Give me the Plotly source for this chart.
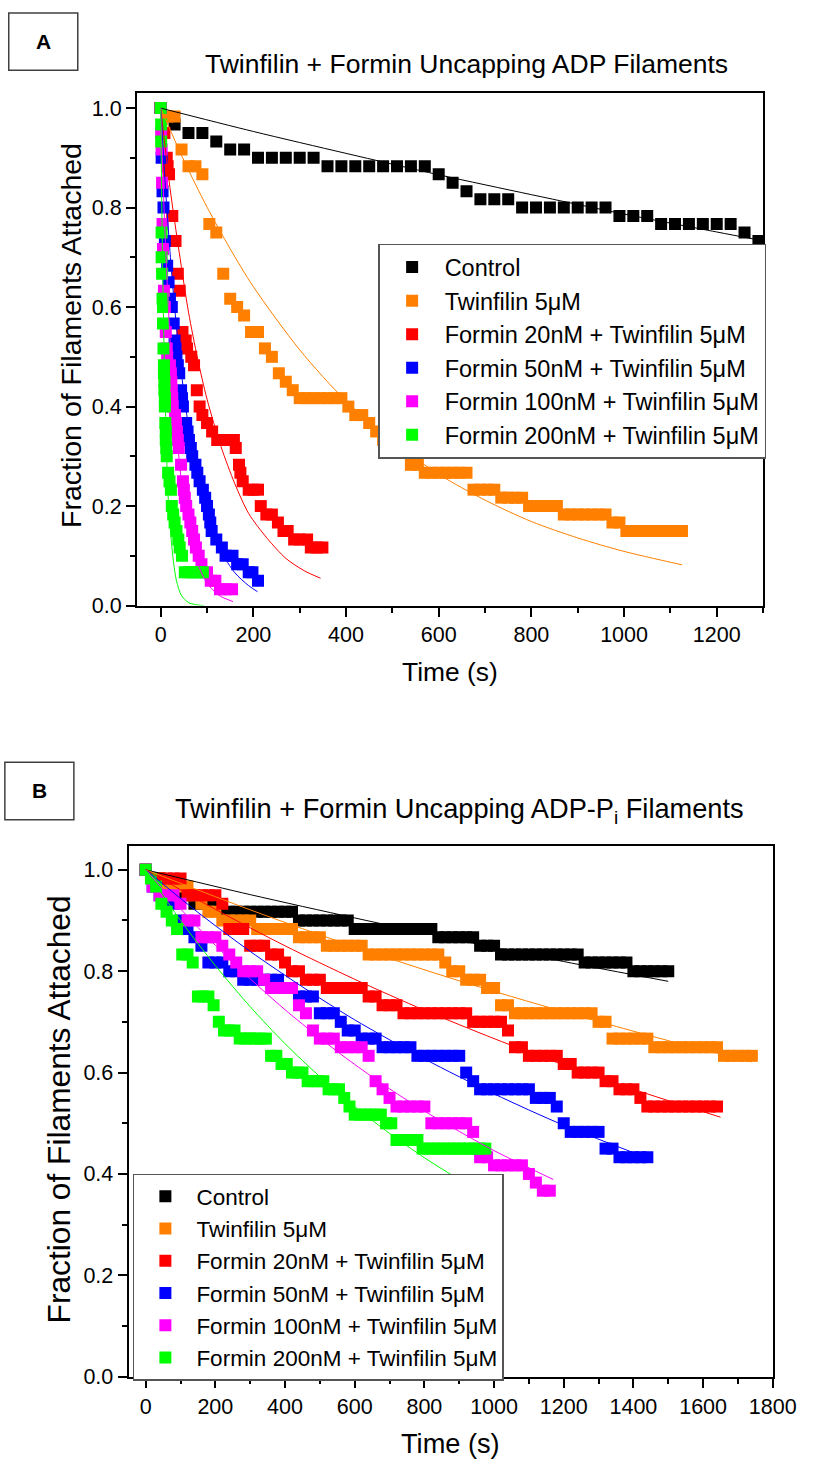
import plotly.graph_objects as go

# ---------------- data ----------------
NAMES = ["Control", "Twinfilin 5μM", "Formin 20nM + Twinfilin 5μM",
         "Formin 50nM + Twinfilin 5μM", "Formin 100nM + Twinfilin 5μM",
         "Formin 200nM + Twinfilin 5μM"]
COLORS = ["#000000", "#FF8000", "#FF0000", "#0000FF", "#FF00FF", "#00FF00"]

TIME_15 = [0, 15, 30, 45, 60, 75, 90, 105, 120, 135, 150, 165, 180, 195, 210, 225, 240, 255, 270, 285,
           300, 315, 330, 345, 360, 375, 390, 405, 420, 435, 450, 465, 480, 495, 510, 525, 540, 555, 570, 585,
           600, 615, 630, 645, 660, 675, 690, 705, 720, 735, 750, 765, 780, 795, 810, 825, 840, 855, 870, 885,
           900, 915, 930, 945, 960, 975, 990, 1005, 1020, 1035, 1050, 1065, 1080, 1095, 1110, 1125]
TIME_20 = [0, 20, 40, 60, 80, 100, 120, 140, 160, 180, 200, 220, 240, 260, 280, 300, 320, 340, 360, 380,
           400, 420, 440, 460, 480, 500, 520, 540, 560, 580, 600, 620, 640, 660, 680, 700, 720, 740, 760, 780,
           800, 820, 840, 860, 880, 900, 920, 940, 960, 980, 1000, 1020, 1040, 1060, 1080, 1100, 1120, 1140,
           1160, 1180, 1200, 1220, 1240, 1260, 1280, 1300, 1320, 1340, 1360, 1380, 1400, 1420, 1440, 1460,
           1480, 1500, 1520, 1540, 1560, 1580, 1600, 1620, 1640, 1660, 1680, 1700, 1720, 1740]
TIME_30 = [0, 30, 60, 90, 120, 150, 180, 210, 240, 270, 300, 330, 360, 390, 420, 450, 480, 510, 540, 570,
           600, 630, 660, 690, 720, 750, 780, 810, 840, 870, 900, 930, 960, 990, 1020, 1050, 1080, 1110,
           1140, 1170, 1200, 1230, 1260, 1290]

# ----- Panel A : ADP filaments -----
A_CONTROL = [1.0, .967, .95, .95, .933, .917, .917, .9, .9, .9, .9, .9,
             .883, .883, .883, .883, .883, .883, .883, .883, .867, .85, .833, .817, .817, .817,
             .8, .8, .8, .8, .8, .8, .8, .783, .783, .783, .767, .767, .767, .767, .767, .767, .75, .733]
A_TWF = [1.0, .983, .983, .917, .883, .883, .867, .767, .75, .667, .617, .6, .583, .55, .55, .517, .5, .467, .45, .433,
         .417, .417, .417, .417, .417, .417, .417,
         .4, .383, .383, .367, .35,
         .333, .333, .317, .317, .283, .283,
         .267, .267, .267, .267, .267, .267, .267,
         .233, .233, .233, .233,
         .217, .217, .217, .217,
         .2, .2, .2, .2, .2,
         .183, .183, .183, .183, .183, .183, .183,
         .167, .167,
         .15, .15, .15, .15, .15, .15, .15, .15, .15]
A_F20_T = [0, 8, 13, 15, 18, 25, 32, 37, 41, 47, 54, 57, 66, 72, 78, 84, 90, 100, 111, 122, 131, 140, 150, 158,
           162, 169, 172, 177, 190, 200, 210, 216, 228, 240, 253, 265, 274, 288, 300, 316, 324, 337, 349]
A_F20 = [1.0, .95, .9, .883, .867, .783, .733, .667, .633, .55, .533, .517, .5, .483, .433, .4, .383, .367, .35,
         .333, .333, .333, .333, .333, .317, .283, .267, .25, .233, .233, .233, .2, .183, .183, .167, .15, .15,
         .133, .133, .133, .117, .117, .117]
A_F50_T = [0, 2, 4, 6, 9, 14, 17, 20, 24, 28, 30, 32, 34, 37, 40, 44, 46, 48, 55, 58, 61, 65, 68, 75, 79,
           84, 91, 96, 100, 104, 107, 110, 120, 132, 140, 155, 165, 177, 190, 198, 210]
A_F50 = [1.0, .9, .833, .8, .733, .683, .65, .617, .6, .567, .533, .517, .5, .483, .467, .433, .417, .4, .367,
         .35, .333, .317, .3, .283, .267, .25, .233, .217, .2, .183, .167, .15, .133, .117, .1, .1, .083, .083,
         .067, .067, .05]
A_F100_T = [0, 1, 2, 3, 4, 5, 7, 9, 11, 13, 14, 20, 22, 23, 24, 25, 26, 31, 33, 35, 37, 39, 44, 48, 50,
            52, 55, 60, 64, 68, 72, 76, 82, 88, 100, 108, 118, 128, 140, 154]
A_F100 = [1.0, .95, .917, .85, .767, .717, .633, .6, .55, .517, .5, .483, .467, .45, .433, .417, .4, .383,
          .367, .35, .333, .317, .283, .25, .233, .217, .2, .183, .167, .15, .133, .117, .1, .083, .067, .05,
          .05, .033, .033, .033]
A_F200_T = [0, 1, 1, 2, 2, 3, 4, 5, 5, 6, 7, 7, 8, 8, 9, 9, 10, 11, 11, 12, 13, 16, 19, 22, 24, 27, 30, 34,
            38, 41, 46, 52, 60, 68, 76, 84, 91]
A_F200 = [1.0, .967, .933, .75, .7, .667, .617, .6, .567, .517, .483, .467, .45, .433, .417, .4, .367, .35,
          .333, .317, .3, .267, .25, .233, .2, .183, .167, .15, .133, .117, .1, .067, .067, .067, .067, .067, .067]

FIT_A_CONTROL_T = [0, 200, 400, 600, 800, 1000, 1200, 1290]
FIT_A_CONTROL = [1.0, .953, .909, .866, .826, .787, .751, .735]
FIT_A_TWF_T = [0, 50, 100, 150, 200, 300, 400, 500, 600, 700, 800, 900, 1000, 1125]
FIT_A_TWF = [1.0, .895, .801, .717, .641, .514, .411, .330, .264, .212, .169, .136, .109, .082]
FIT_A_F20_T = [0, 20, 40, 60, 80, 100, 130, 160, 190, 230, 270, 310, 345]
FIT_A_F20 = [1.0, .84, .71, .59, .495, .415, .32, .245, .185, .135, .095, .07, .055]
FIT_A_F50_T = [0, 10, 20, 30, 45, 60, 80, 100, 130, 160, 190, 209]
FIT_A_F50 = [1.0, .844, .712, .6, .465, .36, .257, .183, .11, .066, .04, .028]
FIT_A_F100_T = [0, 5, 10, 20, 30, 45, 60, 80, 100, 125, 156]
FIT_A_F100 = [1.0, .856, .733, .538, .395, .248, .156, .084, .045, .021, .008]
FIT_A_F200_T = [0, 3, 6, 10, 16, 22, 28, 34, 45, 60, 75, 93]
FIT_A_F200 = [1.0, .76, .58, .40, .22, .14, .085, .05, .02, .006, .002, 0.0]

# ----- Panel B : ADP-Pi filaments -----
B_CONTROL = [1.0, .983, .983, .967, .95, .95, .95, .933, .933, .933, .933,
             .917, .917, .917, .917, .917, .917, .917, .917, .917, .917, .917,
             .9, .9, .9, .9, .9, .9, .9, .9,
             .883, .883, .883, .883, .883, .883, .883, .883, .883, .883, .883, .883,
             .867, .867, .867, .867, .867, .867,
             .85, .85, .85,
             .833, .833, .833, .833, .833, .833, .833, .833, .833, .833, .833, .833,
             .817, .817, .817, .817, .817, .817, .817,
             .8, .8, .8, .8, .8, .8]
B_TWF = [1.0, .983, .983, .967, .967, .967, .967, .95, .933, .917, .917,
         .9, .9, .9, .9, .9,
         .883, .883, .883, .883, .883, .883,
         .867, .867, .867, .867,
         .85, .85, .85, .85, .85, .85,
         .833, .833, .833, .833, .833, .833, .833, .833, .833, .833, .833,
         .817, .8, .8, .783, .783, .783, .767, .767, .733, .733,
         .717, .717, .717, .717, .717, .717, .717, .717, .717, .717, .717, .717,
         .7, .7,
         .667, .667, .667, .667, .667, .667,
         .65, .65, .65, .65, .65, .65, .65, .65, .65, .65,
         .633, .633, .633, .633, .633]
B_F20 = [1.0, .983, .983, .983, .983, .983, .95, .95, .95, .95, .95,
         .933, .883, .883, .883, .85, .85, .85, .833, .833, .817, .8, .8, .783, .783, .783,
         .767, .767, .767, .767, .767, .767, .75, .75, .733, .733, .733,
         .717, .717, .717, .717, .717, .717, .717, .717, .717, .717,
         .7, .7, .7, .7, .7, .683, .65, .65,
         .633, .633, .633, .633, .633, .617, .617, .6, .6, .6, .6,
         .583, .583, .567, .567, .567, .55,
         .533, .533, .533, .533, .533, .533, .533, .533, .533, .533, .533]
B_F50 = [1.0, .967, .95, .933, .933, .9, .883, .867, .85, .817, .817, .817, .8, .8,
         .783, .783, .783, .783, .783, .783, .767, .767, .75, .75, .75, .717, .717, .717,
         .7, .683, .683, .667, .667, .667,
         .65, .65, .65, .65, .65,
         .633, .633, .633, .633, .633, .633, .633,
         .6, .583,
         .567, .567, .567, .567, .567, .567, .567, .567,
         .55, .55, .55, .533, .5,
         .483, .483, .483, .483, .483, .45, .45,
         .433, .433, .433, .433, .433]
B_F100 = [1.0, .967, .95, .95, .95, .933, .9, .9, .867, .867, .867, .85, .833, .817, .8, .8, .8, .783,
          .767, .767, .767, .767, .733, .717, .683, .667, .667, .667, .65, .65, .65, .65, .633, .583, .567, .55,
          .533, .533, .533, .533, .533,
          .5, .5, .5, .5, .5, .5,
          .483, .433, .433,
          .417, .417, .417, .417, .417,
          .4, .383, .367, .367]
B_F200 = [1.0, .983, .967, .933, .917, .9, .883, .833, .833, .817, .75, .75, .75, .733, .7,
          .683, .683, .683, .667, .667, .667, .667, .667, .667, .633, .633, .617, .617,
          .6, .6, .6, .583, .583, .583, .583, .567, .567, .567, .55, .533,
          .517, .517, .517, .517, .517, .517, .5, .5,
          .467, .467, .467, .467, .467,
          .45, .45, .45, .45, .45, .45, .45, .45, .45, .45, .45, .45, .45]

FIT_B_CONTROL_T = [0, 300, 600, 900, 1200, 1500]
FIT_B_CONTROL = [1.0, .951, .905, .861, .819, .78]
FIT_B_TWF_T = [0, 300, 600, 900, 1200, 1500, 1740]
FIT_B_TWF = [1.0, .921, .848, .781, .720, .663, .621]
FIT_B_F20_T = [0, 200, 400, 600, 800, 1000, 1200, 1400, 1650]
FIT_B_F20 = [1.0, .922, .850, .784, .723, .667, .615, .567, .512]
FIT_B_F50_T = [0, 150, 300, 450, 600, 800, 1000, 1200, 1450]
FIT_B_F50 = [1.0, .916, .839, .769, .704, .627, .558, .496, .429]
FIT_B_F100_T = [0, 100, 200, 300, 400, 500, 600, 700, 800, 900, 1000, 1170]
FIT_B_F100 = [1.0, .923, .851, .785, .724, .668, .616, .568, .524, .484, .446, .389]
FIT_B_F200_T = [0, 100, 200, 300, 400, 500, 600, 700, 800, 902]
FIT_B_F200 = [1.0, .9, .811, .730, .657, .592, .533, .480, .432, .388]

A_SERIES = [(TIME_30, A_CONTROL), (TIME_15, A_TWF), (A_F20_T, A_F20), (A_F50_T, A_F50),
            (A_F100_T, A_F100), (A_F200_T, A_F200)]
A_FITS = [(FIT_A_CONTROL_T, FIT_A_CONTROL), (FIT_A_TWF_T, FIT_A_TWF), (FIT_A_F20_T, FIT_A_F20),
          (FIT_A_F50_T, FIT_A_F50), (FIT_A_F100_T, FIT_A_F100), (FIT_A_F200_T, FIT_A_F200)]
B_SERIES = [(TIME_20, B_CONTROL), (TIME_20, B_TWF), (TIME_20, B_F20), (TIME_20, B_F50),
            (TIME_20, B_F100), (TIME_15, B_F200)]
B_FITS = [(FIT_B_CONTROL_T, FIT_B_CONTROL), (FIT_B_TWF_T, FIT_B_TWF), (FIT_B_F20_T, FIT_B_F20),
          (FIT_B_F50_T, FIT_B_F50), (FIT_B_F100_T, FIT_B_F100), (FIT_B_F200_T, FIT_B_F200)]

# ---------------- figure ----------------
W, H = 823, 1473
FONT = "Arial, 'Liberation Sans', sans-serif"


def px(x):
    return x / W


def py(y):
    return 1 - y / H


fig = go.Figure()

for panel, series, fits, xa, ya, leg in (("a", A_SERIES, A_FITS, "x", "y", "legend"),
                                         ("b", B_SERIES, B_FITS, "x2", "y2", "legend2")):
    for i, (t, f) in enumerate(series):
        fig.add_trace(go.Scatter(
            x=t[:len(f)], y=f, mode="markers", name=NAMES[i],
            marker=dict(symbol="square", size=12, color=COLORS[i], line=dict(width=0)),
            xaxis=xa, yaxis=ya, legend=leg))
    for i, (t, f) in enumerate(fits):
        fig.add_trace(go.Scatter(
            x=t, y=f, mode="lines", showlegend=False,
            line=dict(color=COLORS[i], width=1, shape="spline", smoothing=0.8),
            hoverinfo="skip", xaxis=xa, yaxis=ya, legend=leg))

axis_common = dict(showgrid=False, zeroline=False, showline=True, linecolor="black", linewidth=2,
                   mirror=True, ticks="outside", ticklen=9, tickwidth=1.5, tickcolor="black",
                   tickfont=dict(size=21.5, family=FONT, color="black"))
minor_common = dict(ticklen=5, tickwidth=1.5, ticks="outside", tickcolor="black")

fig.update_layout(
    width=W, height=H, margin=dict(l=0, r=0, t=0, b=0), autosize=False,
    paper_bgcolor="white", plot_bgcolor="white",
    font=dict(family=FONT, color="black"),
    xaxis=dict(domain=[px(141), px(785)], range=[-51, 1300], dtick=200, tick0=0, anchor="y",
               minor=dict(dtick=100, **minor_common), **axis_common),
    yaxis=dict(domain=[py(611), py(94)], range=[0, 1.03], dtick=0.2, tick0=0, tickformat=".1f",
               anchor="x", minor=dict(dtick=0.1, **minor_common), **axis_common),
    xaxis2=dict(domain=[px(132.3), px(795.7)], range=[-49, 1802], dtick=200, tick0=0, anchor="y2",
                minor=dict(dtick=100, **minor_common), **axis_common),
    yaxis2=dict(domain=[py(1389), py(854)], range=[0, 1.046], dtick=0.2, tick0=0, tickformat=".1f",
                anchor="x2", minor=dict(dtick=0.1, **minor_common), **axis_common),
    legend=dict(x=px(389), y=py(246), xanchor="left", yanchor="top", bgcolor="white",
                bordercolor="#555555", borderwidth=1.5, font=dict(size=23.5, family=FONT, color="black"),
                itemwidth=55, traceorder="normal"),
    legend2=dict(x=px(136.7), y=py(1184), xanchor="left", yanchor="top", bgcolor="white",
                 bordercolor="#555555", borderwidth=1.5, font=dict(size=22.5, family=FONT, color="black"),
                 itemwidth=52, traceorder="normal"),
    showlegend=True,
)

annotations = [
    dict(text="Twinfilin + Formin Uncapping ADP Filaments", x=px(480), y=py(65), font=dict(size=26.5)),
    dict(text="Twinfilin + Formin Uncapping ADP-P<sub>i</sub> Filaments", x=px(472.5), y=py(818),
         font=dict(size=27.2)),
    dict(text="Time (s)", x=px(463), y=py(678), font=dict(size=26.4)),
    dict(text="Time (s)", x=px(463), y=py(1456), font=dict(size=27.2)),
    dict(text="Fraction of Filaments Attached", x=px(73), y=py(338), textangle=-90, font=dict(size=28.5)),
    dict(text="Fraction of Filaments Attached", x=px(61), y=py(1119), textangle=-90, font=dict(size=31.7)),
    dict(text="<b>A</b>", x=px(44.5), y=py(42), font=dict(size=21)),
    dict(text="<b>B</b>", x=px(40.5), y=py(798), font=dict(size=21)),
]
for a in annotations:
    a.update(xref="paper", yref="paper", showarrow=False, xanchor="center", yanchor="middle")
    a["font"].update(family=FONT, color="black")
fig.update_layout(annotations=annotations)

fig.update_layout(shapes=[
    dict(type="rect", xref="paper", yref="paper", x0=px(9), x1=px(80), y0=py(71), y1=py(13),
         line=dict(color="#404040", width=1.5)),
    dict(type="rect", xref="paper", yref="paper", x0=px(5), x1=px(76), y0=py(827), y1=py(769),
         line=dict(color="#404040", width=1.5)),
])

fig.write_html("out.html")
